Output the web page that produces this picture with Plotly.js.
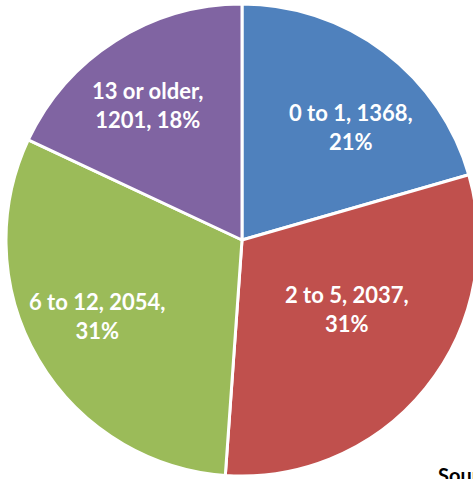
<!DOCTYPE html>
<html>
<head>
<meta charset="utf-8">
<script src="https://cdn.plot.ly/plotly-3.0.1.min.js"></script>
<style>
html,body{margin:0;padding:0;overflow:hidden;background:#fff;width:473px;height:479px;}
#chart{position:absolute;left:6px;top:4px;width:472px;height:500px;}
</style>
</head>
<body>
<div id="chart"></div>
<script>
const categories = ["0 to 1", "2 to 5", "6 to 12", "13 or older"];
const counts = [1368, 2037, 2054, 1201];
const colors = ["#4F81BD", "#C0504D", "#9BBB59", "#8064A2"];

// label block centres in page pixels (layout only)
const labelPosPx = [[350.5, 127], [346.5, 309], [96.5, 316], [147, 104.5]];

const W = 472, H = 500, OX = 6, OY = 4;
const total = counts.reduce((a, b) => a + b, 0);
const labelTexts = categories.map((c, i) => {
  const pct = Math.round(counts[i] / total * 100) + "%";
  if (c.length > 8) return c + ",<br>" + counts[i] + ", " + pct;
  return c + ", " + counts[i] + ",<br>" + pct;
});

const trace = {
  type: "pie",
  labels: categories,
  values: counts,
  textinfo: "none",
  sort: false,
  direction: "clockwise",
  rotation: 0,
  marker: {colors: colors, line: {color: "#ffffff", width: 3}},
  domain: {x: [0, 1], y: [1 - W / H, 1]},
  automargin: false,
  hoverinfo: "none"
};

const labelFont = {family: "Lato, 'Liberation Sans', sans-serif", size: 22, color: "#ffffff", weight: "bold"};
const annotations = labelTexts.map((t, i) => ({
  text: t, xref: "paper", yref: "paper",
  x: (labelPosPx[i][0] - OX) / W, y: 1 - (labelPosPx[i][1] - OY) / H,
  xanchor: "center", yanchor: "middle", align: "center",
  showarrow: false, font: labelFont
}));
annotations.push({
  text: "Source", xref: "paper", yref: "paper",
  x: (436 - OX) / W, y: 1 - (461 - OY) / H, xanchor: "left", yanchor: "top",
  showarrow: false,
  font: {family: "Lato, 'Liberation Sans', sans-serif", size: 20, color: "#000000", weight: "bold"}
});

const layout = {
  width: W, height: H,
  margin: {l: 0, r: 0, t: 0, b: 0, pad: 0},
  showlegend: false,
  paper_bgcolor: "#ffffff",
  annotations: annotations
};

Plotly.newPlot("chart", [trace], layout, {staticPlot: true, displayModeBar: false});
</script>
</body>
</html>
